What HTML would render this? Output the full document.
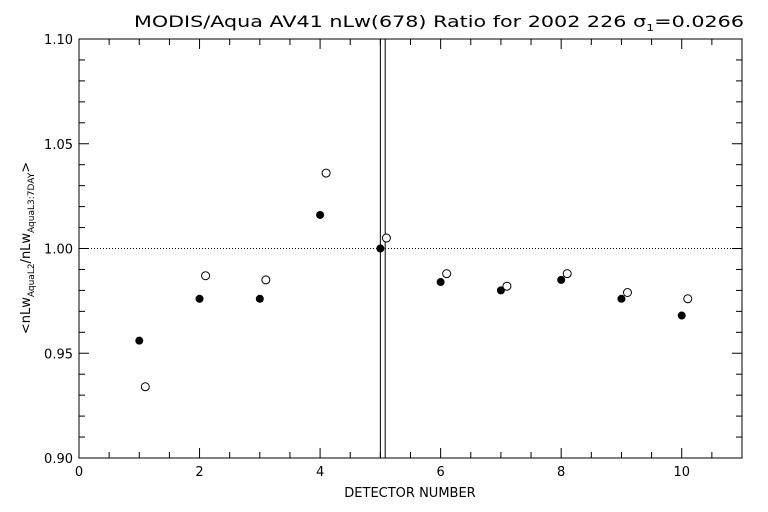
<!DOCTYPE html>
<html><head><meta charset="utf-8"><style>
body{margin:0;background:#fff;}
svg{display:block;font-family:"DejaVu Sans","Liberation Sans",sans-serif;}
</style></head><body>
<svg id="chart" width="768" height="512" viewBox="0 0 768 512" xmlns="http://www.w3.org/2000/svg">
<rect width="768" height="512" fill="#fff"/>
<text x="439" y="27" font-size="16" text-anchor="middle" textLength="610" lengthAdjust="spacingAndGlyphs" fill="#000">MODIS/Aqua AV41 nLw(678) Ratio for 2002 226 σ<tspan font-size="10" dy="4">1</tspan><tspan dy="-4">=0.0266</tspan></text>
<g id="axes"></g>
<g id="marks"></g>
<text x="410" y="497" font-size="13" text-anchor="middle" fill="#000">DETECTOR NUMBER</text>
<text transform="translate(30,248) rotate(-90)" font-size="13" text-anchor="middle" fill="#000">&lt;nLw<tspan font-size="9" dy="4">AquaL2</tspan><tspan dy="-4">/nLw</tspan><tspan font-size="9" dy="4">AquaL3:7DAY</tspan><tspan dy="-4">&gt;</tspan></text>
</svg>
<script>
const detectors=[1,2,3,4,5,6,7,8,9,10];
const filledValues=[0.956,0.976,0.976,1.016,1.000,0.984,0.980,0.985,0.976,0.968];
const openValues=[0.934,0.987,0.985,1.036,1.005,0.988,0.982,0.988,0.979,0.976];
const xTickLabels=[0,2,4,6,8,10];
const yTickLabels=["0.90","0.95","1.00","1.05","1.10"];
const NS="http://www.w3.org/2000/svg";
const L=79,R=742,T=39,B=458,xMin=0,xMax=11,yMin=0.9,yMax=1.1;
const xs=v=>L+(v-xMin)/(xMax-xMin)*(R-L);
const ys=v=>B-(v-yMin)/(yMax-yMin)*(B-T);
const axes=document.getElementById('axes'),marks=document.getElementById('marks');
function mk(tag,attrs,parent){const e=document.createElementNS(NS,tag);for(const k in attrs)e.setAttribute(k,attrs[k]);parent.appendChild(e);return e;}
const frame=mk('rect',{x:L,y:T,width:R-L,height:B-T,fill:'none',stroke:'#000','stroke-width':1},axes);


for(let v=0;v<=11.0001;v+=0.5){
  const x=xs(v),major=Math.abs(v/2-Math.round(v/2))<1e-6,len=major?10:6;
  const t1=mk('line',{x1:x,x2:x,y1:B,y2:B-len,stroke:'#000'},axes);
  
  
  const t2=mk('line',{x1:x,x2:x,y1:T,y2:T+len,stroke:'#000'},axes);
  
  
}
xTickLabels.forEach(v=>{
  const t=mk('text',{x:xs(v),y:B+18,'font-size':13,'text-anchor':'middle'},axes);t.textContent=v;
  
  
});
for(let i=0;i<=20;i++){
  const v=yMin+i*0.01,y=ys(v),major=i%5===0,len=major?10:6;
  const t1=mk('line',{x1:L,x2:L+len,y1:y,y2:y,stroke:'#000'},axes);
  
  
  const t2=mk('line',{x1:R,x2:R-len,y1:y,y2:y,stroke:'#000'},axes);
  
  
}
yTickLabels.forEach(s=>{
  const t=mk('text',{x:L-6,y:ys(parseFloat(s))+5,'font-size':13,'text-anchor':'end'},axes);t.textContent=s;
  
  
});
const ref=mk('line',{x1:L,x2:R,y1:ys(1),y2:ys(1),stroke:'#000','stroke-dasharray':'1,2'},axes);


[5,5.08].forEach(v=>{
  const l=mk('line',{x1:xs(v),x2:xs(v),y1:T,y2:B,stroke:'#000'},axes);
  
  
});
detectors.forEach((d,i)=>{
  const c=mk('circle',{cx:xs(d),cy:ys(filledValues[i]),r:4,fill:'#000'},marks);
  
  
  const o=mk('circle',{cx:xs(d+0.1),cy:ys(openValues[i]),r:4,fill:'#fff',stroke:'#000'},marks);
  
  
});
</script>
</body></html>
